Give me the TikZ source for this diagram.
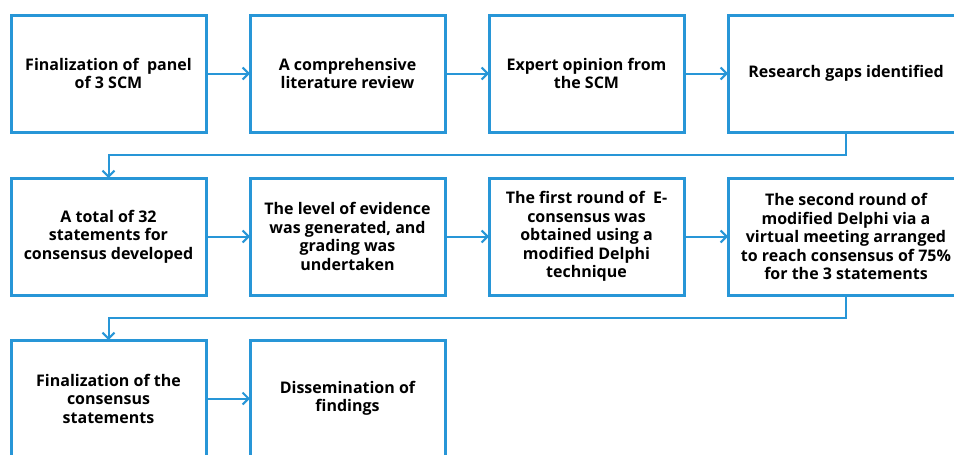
\documentclass[tikz,border=0pt]{standalone}
\usepackage{fontspec}
\setsansfont{Open Sans}
\usepackage{tikz}
\usetikzlibrary{arrows.meta,positioning,calc}
\definecolor{flowblue}{RGB}{40,150,215}
\tikzstyle{stage}=[draw=flowblue,line width=3pt,fill=white,align=center,
  minimum width=195pt,minimum height=117pt,inner sep=2pt,outer sep=0pt,
  font=\sffamily\bfseries\fontsize{16}{18.5}\selectfont]
\tikzstyle{widestage}=[stage,minimum width=236pt]
\tikzstyle{link}=[draw=flowblue,line width=2pt,
  -{Straight Barb[length=6pt,width=12pt,line width=2pt]}]

\begin{document}
\begin{tikzpicture}
  \useasboundingbox (0,0) rectangle (954pt,-455pt);
  % first row
  \node[stage] (plan) at (108.5pt,-73.5pt) {Finalization of\ \ panel\\of 3 SCM};
  \node[stage,right=44pt of plan] (review) {A comprehensive\\literature review};
  \node[stage,right=44pt of review] (expert) {Expert opinion from\\the SCM};
  \node[widestage,right=44pt of expert] (gaps) {Research gaps identified};
  % second row
  \node[stage,below=46pt of plan] (total) {A total of 32\\statements for\\consensus developed};
  \node[stage,right=44pt of total] (level) {The level of evidence\\was generated, and\\grading was\\undertaken};
  \node[stage,right=44pt of level] (first) {The first round of\ \ E-\\consensus was\\obtained using a\\modified Delphi\\technique};
  \node[widestage,right=44pt of first] (second) {The second round of\\modified Delphi via a\\virtual meeting arranged\\to reach consensus of 75\%\\for the 3 statements};
  % third row
  \node[stage,below=45pt of total] (final) {Finalization of the\\consensus\\statements};
  \node[stage,right=44pt of final] (dissem) {Dissemination of\\findings};

  \draw[link] (plan) -- (review);
  \draw[link] (review) -- (expert);
  \draw[link] (expert) -- (gaps);
  \draw[link] (gaps.south) -- ++(0,-23pt) -| (total.north);
  \draw[link] (total) -- (level);
  \draw[link] (level) -- (first);
  \draw[link] (first) -- (second);
  \draw[link] (second.south) -- ++(0,-23pt) -| (final.north);
  \draw[link] (final) -- (dissem);
\end{tikzpicture}
\end{document}
